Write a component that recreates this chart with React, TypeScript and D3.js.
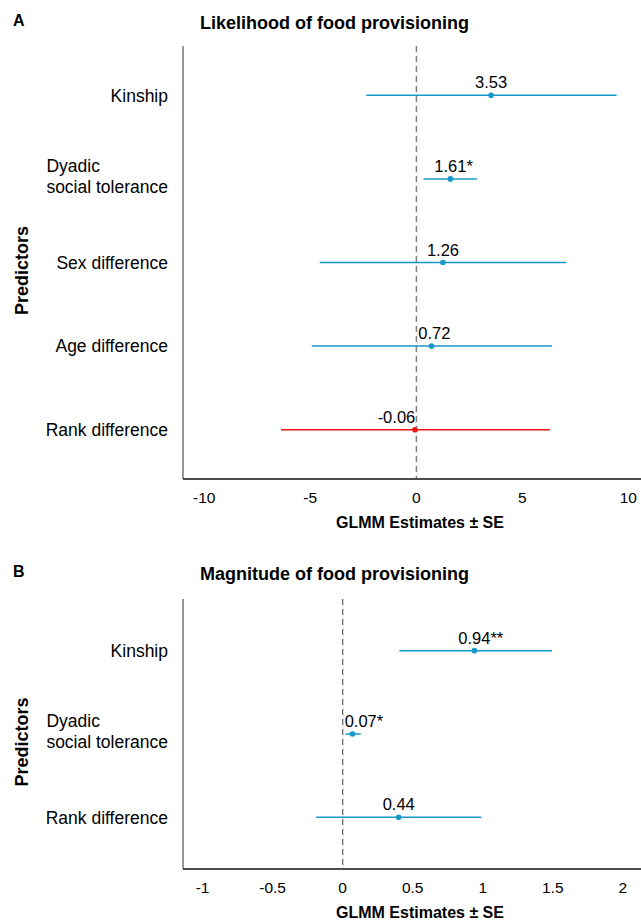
import React, { useEffect, useRef } from "react";
import * as d3 from "d3";

// panel A - likelihood
const predictorsA = ["Kinship", "Dyadic\nsocial tolerance", "Sex difference", "Age difference", "Rank difference"];
const estimatesA = [3.53, 1.61, 1.26, 0.72, -0.06];
const lowerA = [-2.35, 0.34, -4.55, -4.93, -6.38];
const upperA = [9.45, 2.86, 7.08, 6.41, 6.31];
const labelsA = ["3.53", "1.61*", "1.26", "0.72", "-0.06"];
const ticksA = [-10, -5, 0, 5, 10];

// panel B - magnitude
const predictorsB = ["Kinship", "Dyadic\nsocial tolerance", "Rank difference"];
const estimatesB = [0.94, 0.07, 0.4];
const lowerB = [0.405, 0.02, -0.19];
const upperB = [1.495, 0.13, 0.99];
const labelsB = ["0.94**", "0.07*", "0.44"];
const ticksB = [-1, -0.5, 0, 0.5, 1, 1.5, 2];

const FONT = "'Liberation Sans', Arial, sans-serif";
const BLUE = "#1797cb";
const RED = "#f01414";

const drawPanel = (svg, cfg) => {
  const { letter, title, predictors, est, lo, hi, labels, ticks, domain, top, bottom, titleY } = cfg;
  const left = 183;
  const right = 641;

  const x = d3.scaleLinear().domain(domain).range([left, right]);
  const y = d3.scalePoint().domain(predictors).range([top, bottom]).padding(cfg.pad);
  const zero = x(0);

  const g = svg.append("g").attr("font-family", FONT);

  g.append("text")
    .attr("x", 13)
    .attr("y", titleY - 3)
    .attr("font-size", 16)
    .attr("font-weight", "bold")
    .text(letter);

  g.append("text")
    .attr("x", 200)
    .attr("y", titleY)
    .attr("font-size", 18)
    .attr("font-weight", "bold")
    .text(title);

  // faint zero grid + dashed reference
  g.append("line")
    .attr("x1", zero + 1)
    .attr("x2", zero + 1)
    .attr("y1", top)
    .attr("y2", bottom)
    .attr("stroke", "#e4e4e4")
    .attr("stroke-width", 1);
  g.append("line")
    .attr("x1", zero)
    .attr("x2", zero)
    .attr("y1", top)
    .attr("y2", bottom)
    .attr("stroke", "#555")
    .attr("stroke-width", 1)
    .attr("stroke-dasharray", "6 4");

  // axes
  g.append("line")
    .attr("x1", left)
    .attr("x2", left)
    .attr("y1", top)
    .attr("y2", bottom)
    .attr("stroke", "#333")
    .attr("stroke-width", 1);
  g.append("line")
    .attr("x1", left)
    .attr("x2", right)
    .attr("y1", bottom)
    .attr("y2", bottom)
    .attr("stroke", "#111")
    .attr("stroke-width", 1.3);

  g.selectAll(".tick")
    .data(ticks)
    .enter()
    .append("text")
    .attr("x", (d) => x(d))
    .attr("y", bottom + 24)
    .attr("text-anchor", "middle")
    .attr("font-size", 15.5)
    .text((d) => String(d));

  g.append("text")
    .attr("x", 420)
    .attr("y", bottom + 49)
    .attr("text-anchor", "middle")
    .attr("font-size", 16)
    .attr("font-weight", "bold")
    .text("GLMM Estimates \u00b1 SE");

  g.append("text")
    .attr("transform", `translate(28,${(top + bottom) / 2 + 8}) rotate(-90)`)
    .attr("text-anchor", "middle")
    .attr("font-size", 18)
    .attr("font-weight", "bold")
    .text("Predictors");

  // predictor labels
  predictors.forEach((p) => {
    const lines = p.split("\n");
    const yy = y(p);
    if (lines.length === 1) {
      g.append("text")
        .attr("x", 168)
        .attr("y", yy + 6.3)
        .attr("text-anchor", "end")
        .attr("font-size", 17.5)
        .text(p);
    } else {
      const t = g.append("text").attr("font-size", 17.5);
      lines.forEach((ln, i) => {
        t.append("tspan")
          .attr("y", yy - 7 + i * 21)
          .text(ln);
      });
      const w = d3.max(t.selectAll("tspan").nodes(), (n) => n.getComputedTextLength());
      t.selectAll("tspan").attr("x", 168 - w);
    }
  });

  // intervals and points
  predictors.forEach((p, i) => {
    const yy = y(p);
    const col = est[i] < 0 ? RED : BLUE;
    g.append("line")
      .attr("x1", x(lo[i]))
      .attr("x2", x(hi[i]))
      .attr("y1", yy)
      .attr("y2", yy)
      .attr("stroke", col)
      .attr("stroke-width", 1.5);
    g.append("circle")
      .attr("cx", x(est[i]))
      .attr("cy", yy)
      .attr("r", 2.8)
      .attr("fill", col);

    // number centred on the point, stars trail after; nudge off the zero line
    const num = labels[i].replace(/\*+$/, "");
    const stars = labels[i].slice(num.length);
    const t = g.append("text")
      .attr("y", yy - 7)
      .attr("font-size", 16.5)
      .text(num);
    const w = t.node().getComputedTextLength();
    let x0 = x(est[i]) - w / 2;
    if (x0 < zero && x0 + w > zero) {
      x0 = est[i] < 0 ? zero - 1 - w : zero + 2;
    }
    t.attr("x", x0);
    if (stars) t.append("tspan").text(stars);
  });
};

const App = () => {
  const ref = useRef();

  useEffect(() => {
    const svg = d3.select(ref.current);
    svg.selectAll("*").remove();

    drawPanel(svg, {
      letter: "A",
      title: "Likelihood of food provisioning",
      predictors: predictorsA,
      est: estimatesA,
      lo: lowerA,
      hi: upperA,
      labels: labelsA,
      ticks: ticksA,
      domain: [-11, 10.6],
      top: 46,
      bottom: 479,
      pad: 0.59,
      titleY: 29,
    });

    drawPanel(svg, {
      letter: "B",
      title: "Magnitude of food provisioning",
      predictors: predictorsB,
      est: estimatesB,
      lo: lowerB,
      hi: upperB,
      labels: labelsB,
      ticks: ticksB,
      domain: [-1.14, 2.13],
      top: 599,
      bottom: 869,
      pad: 0.62,
      titleY: 580,
    });
  }, []);

  return (
    <svg
      ref={ref}
      width={641}
      height={922}
      style={{ position: "absolute", left: 0, top: 0, background: "#fff" }}
    ></svg>
  );
};

export default App;
